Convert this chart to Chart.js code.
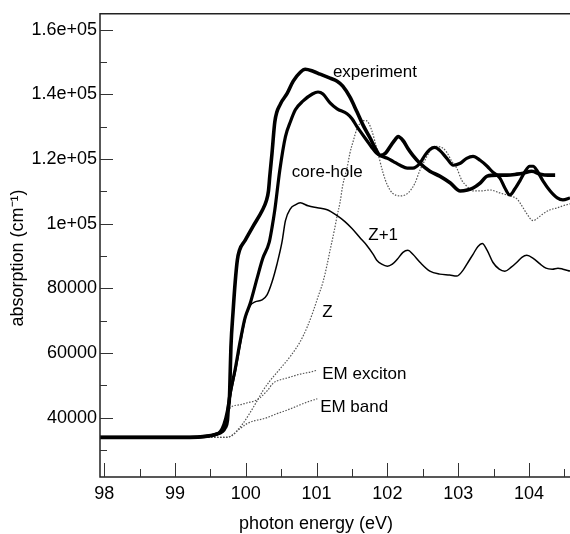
<!DOCTYPE html>
<html>
<head>
<meta charset="utf-8">
<script src="https://cdn.jsdelivr.net/npm/chart.js@4.4.1/dist/chart.umd.min.js"></script>
<style>
  html, body { margin: 0; padding: 0; background: #fff; }
</style>
</head>
<body>
<canvas id="chart" width="570" height="534"></canvas>
<script>
// experiment
const expEnergy = [97.94, 99.21, 99.43, 99.57, 99.67, 99.71, 99.74, 99.75, 99.77, 99.78, 99.79, 99.82, 99.85, 99.88, 99.91, 99.99, 100.10, 100.23, 100.29, 100.32, 100.34, 100.37, 100.41, 100.49, 100.58, 100.67, 100.77, 100.84, 100.95, 101.05, 101.19, 101.29, 101.37, 101.47, 101.57, 101.66, 101.76, 101.83, 101.90, 101.97, 102.04, 102.11, 102.15, 102.22, 102.29, 102.36, 102.46, 102.60, 102.74, 102.89, 103.03, 103.13, 103.21, 103.31, 103.41, 103.55, 103.69, 103.83, 103.92, 104.04, 104.16, 104.27, 104.37];
const expAbs = [33900, 33900, 34200, 34800, 35700, 36900, 39100, 42100, 46700, 54400, 62000, 72750, 81940, 88670, 91730, 94790, 99080, 103970, 107040, 110100, 115000, 121730, 131520, 137030, 140100, 144070, 146830, 147750, 147140, 146220, 144990, 144070, 142540, 139180, 134580, 130300, 126320, 123260, 121120, 121730, 123870, 126010, 126930, 125710, 123260, 121120, 118670, 116220, 114690, 112550, 110100, 110400, 111020, 112550, 114690, 114990, 114990, 115300, 115610, 116220, 115300, 114990, 114990];

// core-hole
const coreEnergy = [97.94, 99.21, 99.43, 99.57, 99.64, 99.69, 99.74, 99.78, 99.85, 99.92, 99.99, 100.06, 100.16, 100.24, 100.33, 100.37, 100.41, 100.48, 100.56, 100.63, 100.70, 100.81, 100.94, 101.02, 101.09, 101.19, 101.29, 101.43, 101.50, 101.57, 101.64, 101.71, 101.78, 101.85, 101.92, 102.00, 102.08, 102.18, 102.28, 102.36, 102.46, 102.53, 102.60, 102.67, 102.74, 102.84, 102.93, 103.03, 103.12, 103.21, 103.31, 103.41, 103.49, 103.59, 103.66, 103.73, 103.80, 103.87, 103.94, 104.01, 104.06, 104.11, 104.20, 104.30, 104.40, 104.48, 104.58];
const coreAbs = [33900, 33900, 34200, 34800, 35700, 37860, 42140, 47650, 55000, 63570, 70920, 75200, 83160, 89280, 94180, 98770, 104280, 116530, 126930, 131520, 135200, 137950, 140100, 140710, 140100, 137340, 135500, 133970, 132440, 130000, 127850, 125710, 123570, 121730, 120810, 120200, 119280, 118060, 117140, 117140, 118670, 121120, 122950, 123570, 122650, 120200, 118060, 118670, 120200, 120810, 119590, 117750, 115910, 114080, 111020, 108870, 110710, 113160, 115910, 117750, 117750, 116530, 113160, 110100, 107950, 107340, 107950];

// Z+1
const zp1Energy = [97.94, 99.21, 99.43, 99.57, 99.65, 99.71, 99.75, 99.79, 99.86, 99.93, 100.00, 100.06, 100.13, 100.23, 100.30, 100.37, 100.44, 100.51, 100.56, 100.63, 100.70, 100.77, 100.88, 101.01, 101.15, 101.29, 101.40, 101.50, 101.61, 101.71, 101.80, 101.85, 101.92, 102.00, 102.07, 102.14, 102.22, 102.29, 102.36, 102.46, 102.60, 102.74, 102.88, 102.98, 103.07, 103.14, 103.21, 103.28, 103.34, 103.41, 103.49, 103.58, 103.66, 103.75, 103.83, 103.90, 103.97, 104.06, 104.16, 104.24, 104.33, 104.41, 104.48, 104.58];
const zp1Abs = [33900, 33900, 34200, 34490, 35410, 37550, 41840, 47350, 55000, 63570, 71220, 74590, 75810, 76430, 77960, 81940, 87450, 94180, 100910, 104590, 105810, 106420, 105500, 104890, 104280, 102440, 100610, 98470, 95710, 93260, 90510, 88670, 87450, 86830, 87450, 88980, 91120, 91730, 90510, 88060, 85300, 84380, 84080, 83770, 85610, 88060, 90510, 92960, 93870, 91730, 88060, 85920, 85300, 86530, 88060, 89590, 90200, 89280, 87450, 86220, 85920, 86220, 85920, 85300];

// Z
const zEnergy = [97.94, 99.36, 99.71, 99.81, 99.89, 99.96, 100.06, 100.16, 100.24, 100.34, 100.48, 100.63, 100.77, 100.87, 100.95, 101.02, 101.09, 101.15, 101.19, 101.25, 101.29, 101.33, 101.37, 101.43, 101.47, 101.52, 101.57, 101.61, 101.66, 101.70, 101.74, 101.78, 101.85, 101.94, 102.00, 102.07, 102.18, 102.25, 102.32, 102.39, 102.46, 102.53, 102.60, 102.70, 102.79, 102.84, 102.91, 102.98, 103.05, 103.12, 103.21, 103.31, 103.45, 103.59, 103.73, 103.83, 103.90, 103.97, 104.06, 104.13, 104.20, 104.30, 104.40, 104.48, 104.58];
const zAbs = [33900, 33900, 33900, 34490, 36330, 38160, 41530, 45200, 48260, 51330, 55000, 58980, 63570, 68160, 72750, 77340, 81940, 87450, 91730, 97850, 102440, 106420, 111930, 117140, 121730, 125710, 129380, 130910, 131830, 131830, 130910, 128770, 123260, 115610, 111930, 109480, 108570, 108870, 110100, 112550, 116530, 119590, 122340, 123870, 123260, 122040, 119280, 117140, 113460, 111630, 110100, 110100, 110400, 109490, 108570, 107650, 105510, 103060, 100910, 101830, 103060, 104280, 104890, 105510, 106120];

// EM exciton
const excEnergy = [97.94, 99.43, 99.57, 99.64, 99.69, 99.74, 99.78, 99.92, 100.02, 100.13, 100.20, 100.30, 100.39, 100.48, 100.58, 100.77, 100.91, 101.01];
const excAbs = [33900, 33900, 34490, 35410, 37550, 40920, 43060, 43980, 44590, 45200, 46120, 48260, 50710, 51630, 52240, 53470, 54080, 54690];

// EM band
const bandEnergy = [97.94, 99.57, 99.74, 99.82, 99.92, 100.02, 100.13, 100.20, 100.30, 100.44, 100.56, 100.67, 100.77, 100.88, 101.01];
const bandAbs = [33900, 33900, 33900, 34800, 36630, 38160, 39080, 39390, 40000, 41220, 42140, 43060, 43980, 44900, 45820];

// axes
const xMajor = [98, 99, 100, 101, 102, 103, 104];
const xMinor = [98.5, 99.5, 100.5, 101.5, 102.5, 103.5, 104.5];
const yMajor = [40000, 60000, 80000, 100000, 120000, 140000, 160000];
const yMajorLabels = ['40000', '60000', '80000', '1e+05', '1.2e+05', '1.4e+05', '1.6e+05'];
const yMinor = [30000, 50000, 70000, 90000, 110000, 130000, 150000];

// curve labels, placed at [energy, absorption]
const curveLabels = [
  { text: 'experiment', at: [101.23, 146830] },
  { text: 'core-hole', at: [100.65, 115910] },
  { text: 'Z+1', at: [101.73, 96320] },
  { text: 'Z', at: [101.08, 72450] },
  { text: 'EM exciton', at: [101.08, 53470] },
  { text: 'EM band', at: [101.05, 43060] },
];

const FONT = '"Liberation Sans", Arial, Helvetica, sans-serif';

function pts(xs, ys) {
  return xs.map((v, i) => ({ x: v, y: ys[i] }));
}

const solid = (w) => ({
  borderColor: '#000',
  borderWidth: w,
  pointRadius: 0,
  fill: false,
  cubicInterpolationMode: 'monotone',
});
const dotted = {
  borderColor: '#555',
  borderWidth: 1.2,
  borderDash: [1.5, 1.5],
  pointRadius: 0,
  fill: false,
  cubicInterpolationMode: 'monotone',
};

const frame = {
  id: 'frame',
  afterDraw(chart) {
    const {
      ctx,
      chartArea: { left, right, top, bottom },
      scales: { x, y },
    } = chart;
    ctx.save();

    ctx.strokeStyle = '#222';
    ctx.lineWidth = 1.5;
    ctx.beginPath();
    ctx.moveTo(right, top);
    ctx.lineTo(left, top);
    ctx.lineTo(left, bottom);
    ctx.lineTo(right, bottom);
    ctx.stroke();

    // inward ticks
    ctx.strokeStyle = '#333';
    ctx.lineWidth = 1;
    ctx.beginPath();
    xMajor.forEach((v) => {
      const px = Math.round(x.getPixelForValue(v)) + 0.5;
      ctx.moveTo(px, bottom);
      ctx.lineTo(px, bottom - 14);
    });
    xMinor.forEach((v) => {
      const px = Math.round(x.getPixelForValue(v)) + 0.5;
      ctx.moveTo(px, bottom);
      ctx.lineTo(px, bottom - 8);
    });
    yMajor.forEach((v) => {
      const py = Math.round(y.getPixelForValue(v)) + 0.5;
      ctx.moveTo(left, py);
      ctx.lineTo(left + 13, py);
    });
    yMinor.forEach((v) => {
      const py = Math.round(y.getPixelForValue(v)) + 0.5;
      ctx.moveTo(left, py);
      ctx.lineTo(left + 7, py);
    });
    ctx.stroke();

    // axis titles
    ctx.fillStyle = '#000';
    ctx.font = '18px ' + FONT;
    ctx.textAlign = 'center';
    ctx.textBaseline = 'middle';
    ctx.fillText('photon energy (eV)', 316, 524);

    ctx.save();
    ctx.translate(18, 258);
    ctx.rotate(-Math.PI / 2);
    ctx.fillText('absorption (cm\u207B\u00B9)', 0, 0);
    ctx.restore();

    // curve labels
    ctx.font = '17px ' + FONT;
    ctx.textAlign = 'left';
    curveLabels.forEach((l) => {
      ctx.fillText(l.text, x.getPixelForValue(l.at[0]), y.getPixelForValue(l.at[1]));
    });

    ctx.restore();
  },
};

new Chart(document.getElementById('chart'), {
  type: 'line',
  data: {
    datasets: [
      { label: 'experiment', data: pts(expEnergy, expAbs), ...solid(3.6) },
      { label: 'core-hole', data: pts(coreEnergy, coreAbs), ...solid(3.2) },
      { label: 'Z+1', data: pts(zp1Energy, zp1Abs), ...solid(1.5) },
      { label: 'Z', data: pts(zEnergy, zAbs), ...dotted },
      { label: 'EM exciton', data: pts(excEnergy, excAbs), ...dotted },
      { label: 'EM band', data: pts(bandEnergy, bandAbs), ...dotted },
    ],
  },
  options: {
    responsive: false,
    animation: false,
    devicePixelRatio: 1,
    events: [],
    layout: { padding: { top: 9, right: 0, bottom: 0, left: 0 } },
    plugins: {
      legend: { display: false },
      tooltip: { enabled: false },
    },
    scales: {
      x: {
        type: 'linear',
        min: 97.94,
        max: 104.58,
        grid: { display: false, drawTicks: false },
        border: { display: false },
        afterBuildTicks: (s) => {
          s.ticks = xMajor.map((v) => ({ value: v }));
        },
        afterFit: (s) => {
          s.height = 57;
        },
        ticks: {
          autoSkip: false,
          maxRotation: 0,
          padding: 6,
          color: '#000',
          font: { family: FONT, size: 18 },
          callback: (v) => String(v),
        },
      },
      y: {
        type: 'linear',
        min: 21630,
        max: 164900,
        grid: { display: false, drawTicks: false },
        border: { display: false },
        afterBuildTicks: (s) => {
          s.ticks = yMajor.map((v) => ({ value: v }));
        },
        afterFit: (s) => {
          s.width = 100;
        },
        ticks: {
          autoSkip: false,
          padding: 3,
          color: '#000',
          font: { family: FONT, size: 18 },
          callback: (v) => yMajorLabels[yMajor.indexOf(v)],
        },
      },
    },
  },
  plugins: [frame],
});
</script>
</body>
</html>
